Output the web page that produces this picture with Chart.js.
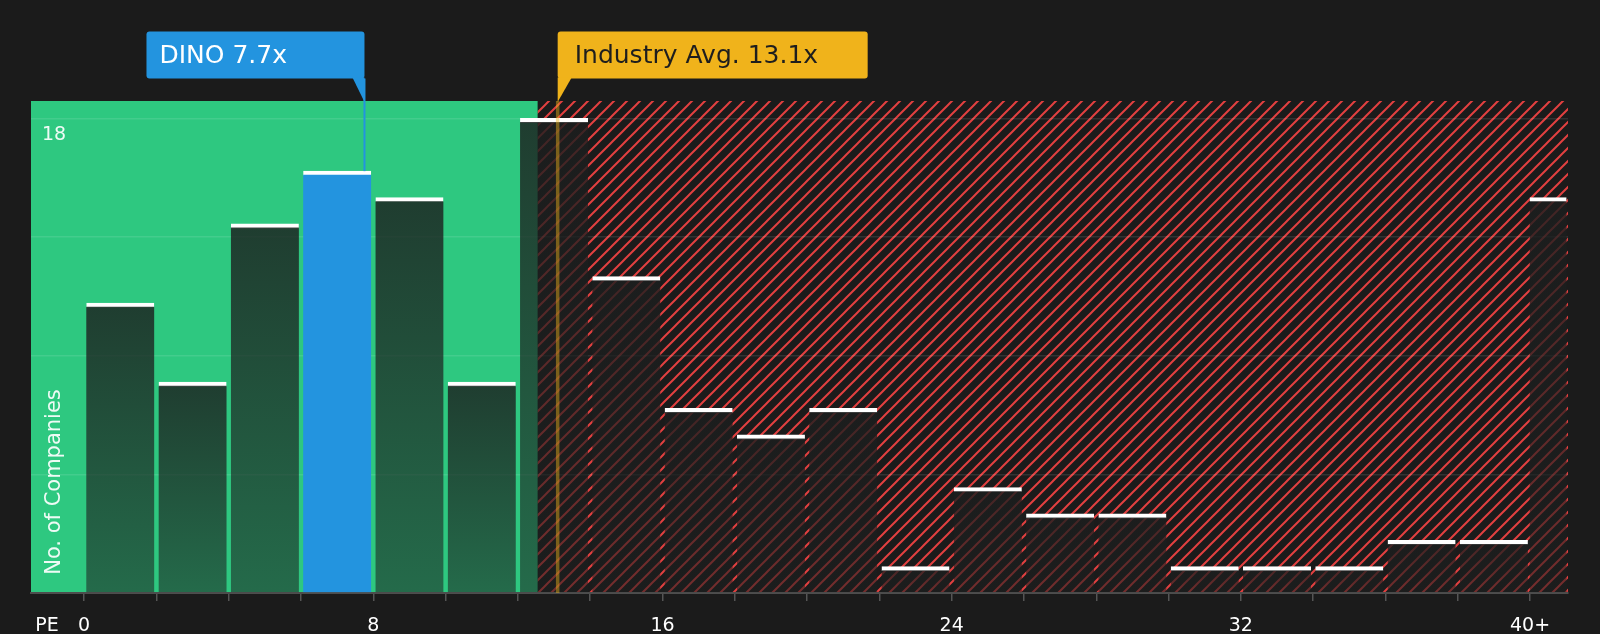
<!DOCTYPE html>
<html>
<head>
<meta charset="utf-8">
<script src="https://cdn.jsdelivr.net/npm/chart.js@4"></script>
<style>
  html, body { margin: 0; padding: 0; background: #1b1b1b; }
  canvas { display: block; }
</style>
</head>
<body>
<canvas id="pechart" width="1600" height="634"></canvas>
<script>
// PE bins (centre of each 2x wide bin) and how many companies fall in each
var peBins = [1, 3, 5, 7, 9, 11, 13, 15, 17, 19, 21, 23, 25, 27, 29, 31, 33, 35, 37, 39];
var companyCounts = [11, 8, 14, 16, 15, 8, 18, 12, 7, 6, 7, 1, 4, 3, 3, 1, 1, 1, 2, 2];
var overflowBin = [40.5];
var overflowCount = [15];

var xTickValues = [0, 2, 4, 6, 8, 10, 12, 14, 16, 18, 20, 22, 24, 26, 28, 30, 32, 34, 36, 38, 40];
var xTickLabels = ['0', '', '', '', '8', '', '', '', '16', '', '', '', '24', '', '', '', '32', '', '', '', '40+'];
var yTickValues = [0, 4.5, 9, 13.5, 18];

var companyName = 'DINO';
var companyPE = 7.7;
var industryPE = 13.1;
var goodValueLimit = 12.55;

var BG = '#1b1b1b';
var GREEN = '#2ec880';
var BLUE = '#2394df';
var GOLD = '#f0b31b';
var FONT = 'DejaVu Sans';

function hatchPattern(ctx) {
  var size = 13;
  var tile = document.createElement('canvas');
  tile.width = size;
  tile.height = size;
  var t = tile.getContext('2d');
  t.fillStyle = BG;
  t.fillRect(0, 0, size, size);
  t.strokeStyle = 'rgb(226,64,64)';
  t.lineWidth = 2;
  t.beginPath();
  t.moveTo(-2, size + 2); t.lineTo(size + 2, -2);
  t.moveTo(-2, 2); t.lineTo(2, -2);
  t.moveTo(size - 2, size + 2); t.lineTo(size + 2, size - 2);
  t.stroke();
  return ctx.createPattern(tile, 'repeat');
}

function dinoIndex() {
  for (var i = 0; i < peBins.length; i++) {
    if (Math.abs(peBins[i] - companyPE) <= 1) return i;
  }
  return -1;
}

function barFill(context) {
  var chart = context.chart;
  var area = chart.chartArea;
  if (!area || context.type !== 'data') return 'rgba(28,30,30,0.8)';
  if (context.datasetIndex === 0 && context.dataIndex === dinoIndex()) return BLUE;
  var top = chart.scales.y.getPixelForValue(context.parsed.y);
  var g = chart.ctx.createLinearGradient(0, top, 0, area.bottom);
  g.addColorStop(0, 'rgba(28,30,30,0.82)');
  g.addColorStop(1, 'rgba(28,30,30,0.55)');
  return g;
}

function roundRect(ctx, x, y, w, h, r) {
  ctx.beginPath();
  ctx.moveTo(x + r, y);
  ctx.lineTo(x + w - r, y);
  ctx.quadraticCurveTo(x + w, y, x + w, y + r);
  ctx.lineTo(x + w, y + h - r);
  ctx.quadraticCurveTo(x + w, y + h, x + w - r, y + h);
  ctx.lineTo(x + r, y + h);
  ctx.quadraticCurveTo(x, y + h, x, y + h - r);
  ctx.lineTo(x, y + r);
  ctx.quadraticCurveTo(x, y, x + r, y);
  ctx.closePath();
}

var backdropPlugin = {
  id: 'backdrop',
  beforeDraw: function(chart) {
    var ctx = chart.ctx;
    var a = chart.chartArea;
    var split = chart.scales.x.getPixelForValue(goodValueLimit);
    ctx.save();
    ctx.fillStyle = BG;
    ctx.fillRect(0, 0, chart.width, chart.height);
    ctx.fillStyle = GREEN;
    ctx.fillRect(a.left, a.top, split - a.left, a.bottom - a.top);
    ctx.fillStyle = hatchPattern(ctx);
    ctx.fillRect(split, a.top, a.right - split, a.bottom - a.top);
    ctx.restore();
  },
  afterDraw: function(chart) {
    var ctx = chart.ctx;
    var a = chart.chartArea;
    var x = chart.scales.x;
    var y = chart.scales.y;
    var boxTop = 31.5, boxH = 47;
    var boxBottom = boxTop + boxH;

    ctx.save();

    // industry average marker
    var ix = x.getPixelForValue(industryPE);
    ctx.strokeStyle = 'rgba(240,179,27,0.45)';
    ctx.lineWidth = 3.5;
    ctx.beginPath();
    ctx.moveTo(ix, a.top);
    ctx.lineTo(ix, a.bottom);
    ctx.stroke();

    ctx.fillStyle = GOLD;
    roundRect(ctx, ix, boxTop, 310, boxH, 3);
    ctx.fill();
    ctx.beginPath();
    ctx.moveTo(ix, boxBottom - 1);
    ctx.lineTo(ix + 14, boxBottom - 1);
    ctx.lineTo(ix, a.top + 1);
    ctx.closePath();
    ctx.fill();

    ctx.font = '25px "' + FONT + '"';
    ctx.textBaseline = 'middle';
    ctx.textAlign = 'left';
    ctx.fillStyle = '#1e1e1e';
    ctx.fillText('Industry Avg. ' + industryPE + 'x', ix + 17, boxTop + boxH / 2 + 1.5);

    // company marker
    var dx = x.getPixelForValue(companyPE) + 2;
    var barTop = y.getPixelForValue(companyCounts[dinoIndex()]);
    ctx.strokeStyle = BLUE;
    ctx.lineWidth = 2;
    ctx.beginPath();
    ctx.moveTo(dx, boxBottom);
    ctx.lineTo(dx, barTop);
    ctx.stroke();

    ctx.fillStyle = BLUE;
    roundRect(ctx, dx - 218, boxTop, 218, boxH, 3);
    ctx.fill();
    ctx.beginPath();
    ctx.moveTo(dx - 12, boxBottom - 1);
    ctx.lineTo(dx, boxBottom - 1);
    ctx.lineTo(dx, a.top + 1);
    ctx.closePath();
    ctx.fill();

    ctx.fillStyle = '#ffffff';
    ctx.fillText(companyName + ' ' + companyPE + 'x', dx - 218 + 13, boxTop + boxH / 2 + 1.5);

    // axis captions
    ctx.font = '21px "' + FONT + '"';
    ctx.fillStyle = 'rgba(255,255,255,0.92)';
    ctx.translate(a.left + 24, a.bottom - 111);
    ctx.rotate(-Math.PI / 2);
    ctx.textAlign = 'center';
    ctx.fillText('No. of Companies', 0, 0);
    ctx.setTransform(1, 0, 0, 1, 0, 0);

    ctx.font = '19px "' + FONT + '"';
    ctx.fillStyle = '#ffffff';
    ctx.textAlign = 'center';
    ctx.fillText('PE', 47, a.bottom + 8 + 14 + 11.4);
    ctx.restore();
  }
};

function draw(canvas) {
  var data = {
    datasets: [{
      data: peBins.map(function(v, i) { return { x: v, y: companyCounts[i] }; }),
      backgroundColor: barFill,
      borderColor: '#ffffff',
      borderWidth: { top: 4, left: 0, right: 0, bottom: 0 },
      borderSkipped: false,
      barThickness: 68,
      grouped: false
    }, {
      data: overflowBin.map(function(v, i) { return { x: v, y: overflowCount[i] }; }),
      backgroundColor: barFill,
      borderColor: '#ffffff',
      borderWidth: { top: 4, left: 0, right: 0, bottom: 0 },
      borderSkipped: false,
      barThickness: 37,
      grouped: false
    }]
  };

  var options = {
    responsive: false,
    animation: false,
    devicePixelRatio: 1,
    layout: { padding: { left: 31, right: 32, top: 101, bottom: 0 } },
    plugins: {
      legend: { display: false },
      tooltip: { enabled: false }
    },
    scales: {
      x: {
        type: 'linear',
        min: -1.47,
        max: 41.05,
        offset: false,
        afterBuildTicks: function(scale) {
          scale.ticks = xTickValues.map(function(v) { return { value: v }; });
        },
        afterFit: function(scale) { scale.height = 41; },
        ticks: {
          autoSkip: false,
          maxRotation: 0,
          padding: 14,
          color: '#ffffff',
          font: { family: FONT, size: 19 },
          callback: function(value) {
            var i = xTickValues.indexOf(value);
            return i < 0 ? '' : xTickLabels[i];
          }
        },
        grid: {
          offset: false,
          drawOnChartArea: false,
          drawTicks: true,
          tickLength: 8,
          color: '#555555',
          lineWidth: 1.5
        },
        border: { display: true, color: '#4d4d4d', width: 2 }
      },
      y: {
        min: 0,
        max: 18.66,
        afterBuildTicks: function(scale) {
          scale.ticks = yTickValues.map(function(v) { return { value: v }; });
        },
        afterFit: function(scale) { scale.width = 0; },
        ticks: {
          mirror: true,
          padding: 11,
          labelOffset: 17,
          color: 'rgba(255,255,255,0.92)',
          font: { family: FONT, size: 19 },
          callback: function(value) { return value === 18 ? '18' : ''; }
        },
        grid: {
          drawTicks: false,
          color: 'rgba(255,255,255,0.1)',
          lineWidth: 1.5
        },
        border: { display: false }
      }
    }
  };

  return new Chart(canvas, {
    type: 'bar',
    data: data,
    options: options,
    plugins: [backdropPlugin]
  });
}

draw(document.getElementById('pechart'));
</script>
</body>
</html>
